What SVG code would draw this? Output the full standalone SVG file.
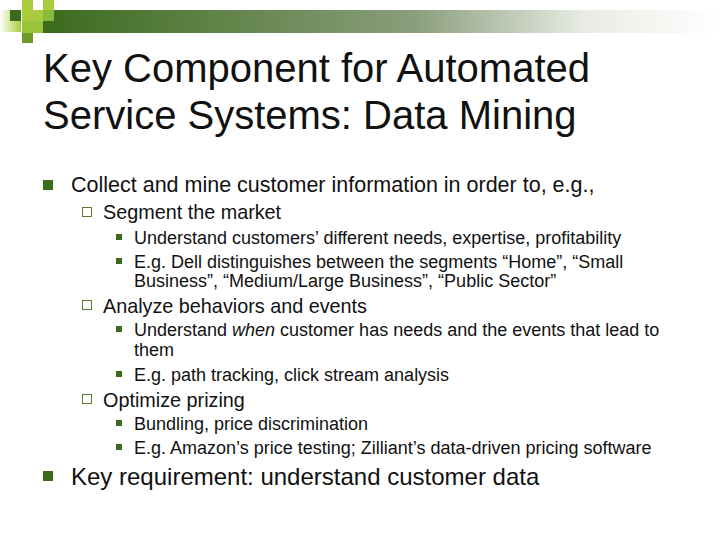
<svg xmlns="http://www.w3.org/2000/svg" width="720" height="540" viewBox="0 0 720 540">
<defs>
<linearGradient id="bar" x1="0" x2="1" y1="0" y2="0">
<stop offset="0" stop-color="#3b6b1c"/>
<stop offset="0.55" stop-color="#8a9e7c"/>
<stop offset="0.8" stop-color="#e8ece4"/>
<stop offset="1" stop-color="#ffffff"/>
</linearGradient>
<linearGradient id="fade" x1="0" x2="1"><stop offset="0" stop-color="#ffffff"/><stop offset="1" stop-color="#a8cc3c"/></linearGradient>
<style>
text{font-family:"Liberation Sans",Arial,sans-serif;fill:#111}
.t{font-size:40px}
.l1{font-size:21.5px}
.l2{font-size:19.8px}
.l3{font-size:18px}
.b1{fill:#3a6a1a}
.b2{fill:#fff;stroke:#5a7a2a;stroke-width:1}
</style>
</defs>
<rect x="43" y="10" width="677" height="23" fill="url(#bar)"/>
<rect x="0" y="10" width="21" height="22" fill="url(#fade)"/>
<rect x="10" y="10" width="11" height="11" fill="#3b6b1c"/>
<rect x="22" y="0" width="11" height="10" fill="#a8cc3c"/>
<rect x="43" y="0" width="11" height="10" fill="#a8cc3c"/>
<rect x="22" y="10" width="21" height="11" fill="#a8cc3c"/>
<rect x="43" y="10" width="11" height="11" fill="#8cb83a"/>
<rect x="22" y="21" width="21" height="12" fill="#9cc43a"/>
<rect x="22" y="33" width="11" height="10" fill="#6e9a2a"/>
<text class="t" x="43" y="82">Key Component for Automated</text>
<text class="t" x="43" y="129">Service Systems: Data Mining</text>
<rect class="b1" x="43" y="180" width="10" height="10"/>
<text class="l1" x="71" y="192">Collect and mine customer information in order to, e.g.,</text>
<rect class="b2" x="82.5" y="207.5" width="9" height="9"/>
<text class="l2" x="103" y="219">Segment the market</text>
<rect class="b1" x="116" y="234" width="6" height="6"/>
<text class="l3" x="134" y="244">Understand customers’ different needs, expertise, profitability</text>
<rect class="b1" x="116" y="258" width="6" height="6"/>
<text class="l3" x="134" y="268">E.g. Dell distinguishes between the segments “Home”, “Small</text>
<text class="l3" x="134" y="287">Business”, “Medium/Large Business”, “Public Sector”</text>
<rect class="b2" x="82.5" y="300.5" width="9" height="9"/>
<text class="l2" x="103" y="313">Analyze behaviors and events</text>
<rect class="b1" x="116" y="326" width="6" height="6"/>
<text class="l3" x="134" y="336">Understand <tspan font-style="italic">when</tspan> customer has needs and the events that lead to</text>
<text class="l3" x="134" y="356">them</text>
<rect class="b1" x="116" y="371" width="6" height="6"/>
<text class="l3" x="134" y="381">E.g. path tracking, click stream analysis</text>
<rect class="b2" x="82.5" y="394.5" width="9" height="9"/>
<text class="l2" x="103" y="407">Optimize prizing</text>
<rect class="b1" x="116" y="420" width="6" height="6"/>
<text class="l3" x="134" y="430">Bundling, price discrimination</text>
<rect class="b1" x="116" y="444" width="6" height="6"/>
<text class="l3" x="134" y="454">E.g. Amazon’s price testing; Zilliant’s data-driven pricing software</text>
<rect class="b1" x="43" y="471" width="10" height="10"/>
<text x="71" y="485" font-size="24">Key requirement: understand customer data</text>
</svg>
